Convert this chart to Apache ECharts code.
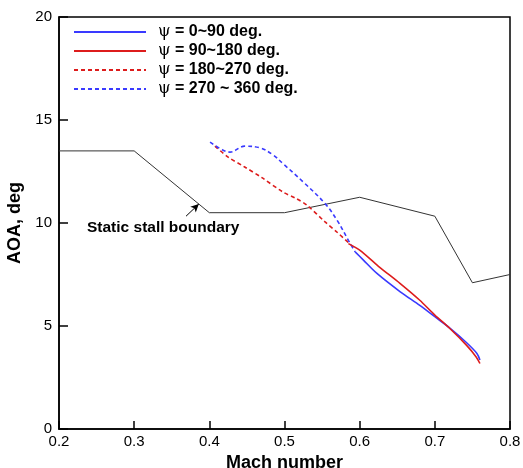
<!DOCTYPE html>
<html>
<head>
<meta charset="utf-8">
<script src="https://cdn.jsdelivr.net/npm/echarts@6/dist/echarts.min.js"></script>
<style>
  html, body { margin: 0; padding: 0; background: #fff; }
  #chart { width: 523px; height: 468px; }
</style>
</head>
<body>
<div id="chart"></div>
<script>
// Static stall boundary (Mach, AOA)
const stallMach = [0.2, 0.3, 0.4, 0.5, 0.6, 0.7, 0.75, 0.8];
const stallAoa  = [13.5, 13.5, 10.5, 10.5, 11.25, 10.33, 7.1, 7.5];

// Azimuth quadrants: psi = 0~90 deg
const q1Mach = [0.594, 0.605, 0.623, 0.654, 0.68, 0.70, 0.72, 0.742, 0.756, 0.76];
const q1Aoa  = [8.6, 8.2, 7.55, 6.66, 6.0, 5.45, 4.9, 4.2, 3.67, 3.35];

// psi = 90~180 deg
const q2Mach = [0.585, 0.60, 0.625, 0.654, 0.68, 0.70, 0.72, 0.742, 0.755, 0.76];
const q2Aoa  = [9.0, 8.68, 7.9, 7.06, 6.25, 5.53, 4.88, 4.07, 3.5, 3.18];

// psi = 180~270 deg
const q3Mach = [0.4075, 0.425, 0.447, 0.47, 0.498, 0.515, 0.53, 0.554, 0.57, 0.588];
const q3Aoa  = [13.73, 13.2, 12.72, 12.2, 11.5, 11.2, 10.86, 10.05, 9.55, 8.95];

// psi = 270~360 deg
const q4Mach = [0.401, 0.415, 0.4275, 0.447, 0.467, 0.485, 0.498, 0.525, 0.554, 0.57, 0.585, 0.594];
const q4Aoa  = [13.93, 13.6, 13.44, 13.73, 13.65, 13.3, 12.88, 11.99, 10.94, 10.13, 9.16, 8.6];

const xTicks = [0.2, 0.3, 0.4, 0.5, 0.6, 0.7, 0.8];
const yTicks = [0, 5, 10, 15, 20];

const legendNames = ['ψ = 0~90 deg.', 'ψ = 90~180 deg.', 'ψ = 180~270 deg.', 'ψ = 270 ~ 360 deg.'];

const BLUE = '#3a3aff';
const RED = '#dd1c1c';
const SANS = '"Liberation Sans", Arial, sans-serif';

function pairs(xs, ys) { return xs.map((x, i) => [x, ys[i]]); }

const chart = echarts.init(document.getElementById('chart'), null, { renderer: 'canvas' });

chart.setOption({
  animation: false,
  backgroundColor: '#fff',
  textStyle: { fontFamily: SANS },
  grid: {
    left: 59, right: 13, top: 17, bottom: 39,
    outerBoundsMode: 'none',
    containLabel: false,
    show: true, borderColor: '#000', borderWidth: 1.5, backgroundColor: 'transparent'
  },
  legend: {
    orient: 'vertical',
    left: 68, top: 19,
    itemWidth: 72, itemHeight: 14, itemGap: 3,
    data: legendNames,
    itemStyle: { opacity: 0 },
    formatter: function (name) {
      return '{g|ψ}{b|' + name.slice(1) + '}';
    },
    textStyle: {
      padding: [0, 0, 0, 7],
      rich: {
        g: { fontFamily: 'DejaVu Serif, serif', fontSize: 16, color: '#000', lineHeight: 17 },
        b: { fontFamily: SANS, fontWeight: 'bold', fontSize: 16, color: '#000', lineHeight: 17 }
      }
    }
  },
  xAxis: {
    type: 'value',
    min: xTicks[0], max: xTicks[xTicks.length - 1], interval: 0.1,
    name: 'Mach number', nameLocation: 'middle', nameGap: 18,
    nameTextStyle: { fontWeight: 'bold', fontSize: 18, color: '#000', fontFamily: SANS },
    axisLine: { onZero: false, lineStyle: { color: '#000', width: 1.5 } },
    axisTick: { inside: true, length: 8, lineStyle: { color: '#000', width: 1.5 } },
    axisLabel: { color: '#000', fontSize: 15, margin: 5, formatter: v => v.toFixed(1) },
    splitLine: { show: false }
  },
  yAxis: {
    type: 'value',
    min: yTicks[0], max: yTicks[yTicks.length - 1], interval: 5,
    name: 'AOA, deg', nameLocation: 'middle', nameGap: 31,
    nameTextStyle: { fontWeight: 'bold', fontSize: 18, color: '#000', fontFamily: SANS },
    axisLine: { onZero: false, lineStyle: { color: '#000', width: 1.5 } },
    axisTick: { inside: true, length: 9, lineStyle: { color: '#000', width: 1.5 } },
    axisLabel: { color: '#000', fontSize: 15, margin: 7 },
    splitLine: { show: false }
  },
  series: [
    {
      name: 'Static stall boundary',
      type: 'line',
      data: pairs(stallMach, stallAoa),
      symbol: 'none',
      lineStyle: { color: '#333', width: 1 },
      z: 1,
      markLine: {
        silent: true,
        symbol: ['none', 'arrow'],
        symbolSize: [6, 8],
        lineStyle: { color: '#000', width: 1, type: 'solid' },
        label: { show: false },
        data: [[{ coord: [0.369, 10.33] }, { coord: [0.386, 10.92] }]]
      }
    },
    {
      name: legendNames[0], type: 'line', data: pairs(q1Mach, q1Aoa), symbol: 'none', smooth: 0.3,
      color: BLUE, lineStyle: { color: BLUE, width: 1.6 }, z: 3
    },
    {
      name: legendNames[1], type: 'line', data: pairs(q2Mach, q2Aoa), symbol: 'none', smooth: 0.3,
      color: RED, lineStyle: { color: RED, width: 1.6 }, z: 4
    },
    {
      name: legendNames[2], type: 'line', data: pairs(q3Mach, q3Aoa), symbol: 'none', smooth: 0.3,
      color: RED, lineStyle: { color: RED, width: 1.6, type: [4, 3] }, z: 3
    },
    {
      name: legendNames[3], type: 'line', data: pairs(q4Mach, q4Aoa), symbol: 'none', smooth: 0.4,
      color: BLUE, lineStyle: { color: BLUE, width: 1.6, type: [4, 3] }, z: 3
    }
  ],
  graphic: [
    {
      type: 'text',
      left: 87, top: 220,
      style: {
        text: 'Static stall boundary',
        fill: '#000',
        font: 'bold 15.5px "Liberation Sans", Arial, sans-serif'
      }
    }
  ]
});
</script>
</body>
</html>
